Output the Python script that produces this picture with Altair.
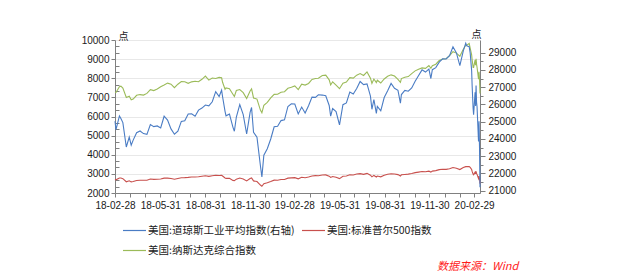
import altair as alt
import pandas as pd

# ---------------- data ----------------
dates = [
    "2018-02-28", "2018-03-02", "2018-03-09", "2018-03-12", "2018-03-16", "2018-03-23", "2018-03-29",
    "2018-04-02", "2018-04-06", "2018-04-13", "2018-04-20", "2018-04-27", "2018-05-04", "2018-05-11",
    "2018-05-18", "2018-05-25", "2018-06-01", "2018-06-08", "2018-06-15", "2018-06-22", "2018-06-29",
    "2018-07-06", "2018-07-13", "2018-07-20", "2018-07-27", "2018-08-03", "2018-08-10", "2018-08-17",
    "2018-08-24", "2018-08-31", "2018-09-07", "2018-09-14", "2018-09-21", "2018-09-28", "2018-10-03",
    "2018-10-05", "2018-10-10", "2018-10-12", "2018-10-19", "2018-10-26", "2018-10-29", "2018-11-02",
    "2018-11-09", "2018-11-16", "2018-11-23", "2018-11-30", "2018-12-03", "2018-12-07", "2018-12-14",
    "2018-12-21", "2018-12-24", "2018-12-28", "2019-01-04", "2019-01-11", "2019-01-18", "2019-01-25",
    "2019-02-01", "2019-02-08", "2019-02-15", "2019-02-22", "2019-03-01", "2019-03-08", "2019-03-15",
    "2019-03-22", "2019-03-29", "2019-04-05", "2019-04-12", "2019-04-18", "2019-04-26", "2019-05-03",
    "2019-05-10", "2019-05-13", "2019-05-17", "2019-05-24", "2019-05-31", "2019-06-07", "2019-06-14",
    "2019-06-21", "2019-06-28", "2019-07-05", "2019-07-12", "2019-07-19", "2019-07-26", "2019-08-02",
    "2019-08-05", "2019-08-09", "2019-08-14", "2019-08-16", "2019-08-23", "2019-08-30", "2019-09-06",
    "2019-09-13", "2019-09-20", "2019-09-27", "2019-10-02", "2019-10-04", "2019-10-11", "2019-10-18",
    "2019-10-25", "2019-11-01", "2019-11-08", "2019-11-15", "2019-11-22", "2019-11-29", "2019-12-03",
    "2019-12-06", "2019-12-13", "2019-12-20", "2019-12-27", "2020-01-03", "2020-01-10", "2020-01-17",
    "2020-01-24", "2020-01-31", "2020-02-07", "2020-02-12", "2020-02-14", "2020-02-19", "2020-02-21",
    "2020-02-24", "2020-02-25", "2020-02-27", "2020-02-28", "2020-03-02", "2020-03-03", "2020-03-04",
    "2020-03-05", "2020-03-06", "2020-03-09", "2020-03-10", "2020-03-11", "2020-03-12",
]

# Dow Jones Industrial Average (right axis)
dow = [
    25029, 24538, 25336, 25179, 24946, 23533, 24103,
    23644, 23933, 24360, 24463, 24311, 24263, 24831,
    24715, 24753, 24635, 25317, 25090, 24581, 24271,
    24456, 25019, 25058, 25451, 25463, 25313, 25669,
    25790, 25965, 25917, 26155, 26744, 26458, 26828,
    26447, 25599, 25340, 25444, 24688, 24443, 25271,
    25989, 25413, 24286, 25538, 25827, 24389, 24100,
    22445, 21792, 23062, 23433, 23996, 24706, 24737,
    25064, 25106, 25883, 26031, 26026, 25450, 25849,
    25502, 25929, 26425, 26412, 26559, 26543, 26505,
    25942, 25325, 25764, 25586, 24815, 25984, 26090,
    26719, 26600, 26922, 27332, 27154, 27192, 26485,
    25718, 26287, 25479, 25886, 25629, 26403, 26797,
    27220, 26935, 26820, 26079, 26573, 26817, 26770,
    26958, 27347, 27681, 28005, 27876, 28051, 27503,
    28015, 28135, 28455, 28645, 28635, 28824, 29348,
    28990, 28256, 29103, 29551, 29398, 29348, 28992,
    27961, 27081, 25766, 25409, 26703, 25917, 27091,
    26121, 25865, 23851, 25018, 23553, 21200,
]

# S&P 500 (left axis)
spx = [
    2714, 2691, 2786, 2783, 2752, 2588, 2641,
    2582, 2604, 2656, 2670, 2670, 2663, 2728,
    2712, 2721, 2735, 2779, 2780, 2755, 2718,
    2760, 2801, 2802, 2819, 2840, 2833, 2850,
    2875, 2902, 2872, 2905, 2930, 2914, 2925,
    2886, 2785, 2767, 2768, 2659, 2641, 2723,
    2781, 2736, 2633, 2760, 2790, 2633, 2600,
    2417, 2351, 2486, 2532, 2596, 2671, 2665,
    2707, 2708, 2776, 2793, 2804, 2743, 2822,
    2800, 2834, 2893, 2907, 2905, 2940, 2946,
    2881, 2812, 2860, 2826, 2752, 2873, 2887,
    2950, 2942, 2990, 3014, 2977, 3026, 2932,
    2845, 2919, 2840, 2889, 2847, 2926, 2979,
    3007, 2992, 2962, 2888, 2952, 2970, 2986,
    3023, 3067, 3093, 3120, 3110, 3141, 3093,
    3146, 3169, 3221, 3240, 3235, 3265, 3330,
    3295, 3226, 3328, 3379, 3380, 3386, 3338,
    3226, 3128, 2979, 2954, 3090, 3003, 3130,
    3024, 2972, 2747, 2882, 2741, 2481,
]

# NASDAQ Composite (left axis)
ixic = [
    7273, 7258, 7560, 7588, 7482, 6993, 7063,
    6870, 6915, 7107, 7146, 7120, 7209, 7403,
    7354, 7434, 7554, 7646, 7746, 7692, 7510,
    7688, 7826, 7820, 7737, 7812, 7839, 7816,
    7946, 8110, 7903, 8010, 7987, 8046, 8025,
    7788, 7422, 7497, 7449, 7167, 7050, 7357,
    7407, 7248, 6939, 7331, 7442, 6969, 6910,
    6333, 6193, 6584, 6739, 6971, 7157, 7165,
    7264, 7298, 7472, 7527, 7596, 7408, 7688,
    7643, 7729, 7939, 7984, 8000, 8146, 8164,
    7917, 7647, 7816, 7637, 7453, 7742, 7797,
    8032, 8006, 8162, 8244, 8146, 8330, 8004,
    7726, 7959, 7774, 7896, 7752, 7963, 8103,
    8177, 8118, 7940, 7786, 7982, 8057, 8089,
    8243, 8386, 8475, 8541, 8520, 8665, 8521,
    8657, 8735, 8925, 9007, 9021, 9179, 9389,
    9315, 9151, 9521, 9726, 9731, 9817, 9577,
    9221, 8966, 8566, 8567, 8952, 8684, 9019,
    8738, 8576, 7950, 8344, 7952, 7201,
]

S_DOW = "美国:道琼斯工业平均指数(右轴)"
S_SPX = "美国:标准普尔500指数"
S_IXIC = "美国:纳斯达克综合指数"
series_names = [S_DOW, S_SPX, S_IXIC]
series_colors = ["#4a7cc4", "#c8504d", "#9bbb59"]

left_major = [2000, 3000, 4000, 5000, 6000, 7000, 8000, 9000, 10000]
right_major = [21000, 22000, 23000, 24000, 25000, 26000, 27000, 28000, 29000]
month_ends = [
    (2018, 2, 28), (2018, 3, 31), (2018, 4, 30), (2018, 5, 31), (2018, 6, 30), (2018, 7, 31),
    (2018, 8, 31), (2018, 9, 30), (2018, 10, 31), (2018, 11, 30), (2018, 12, 31),
    (2019, 1, 31), (2019, 2, 28), (2019, 3, 31), (2019, 4, 30), (2019, 5, 31), (2019, 6, 30),
    (2019, 7, 31), (2019, 8, 31), (2019, 9, 30), (2019, 10, 31), (2019, 11, 30), (2019, 12, 31),
    (2020, 1, 31), (2020, 2, 29),
]
SOURCE = "数据来源：Wind"

# ---------------- tables ----------------
n = len(dates)
df_left = pd.DataFrame({
    "date": pd.to_datetime(dates * 2),
    "value": spx + ixic,
    "series": [S_SPX] * n + [S_IXIC] * n,
})
df_right = pd.DataFrame({
    "date": pd.to_datetime(dates),
    "value": dow,
    "series": [S_DOW] * n,
})

left_minor = [v + k * 1000 / 3 for v in left_major[:-1] for k in (1, 2)]
right_minor = [v + 500 for v in right_major[:-1]]

LATIN = "Liberation Sans"
CJK = "Noto Sans CJK SC"
AXIS_GREY = "#808080"
LABEL_COL = "#1a1a1a"

x_enc = alt.X(
    "date:T",
    scale=alt.Scale(
        domain=[alt.DateTime(year=2018, month=2, date=28), alt.DateTime(year=2020, month=3, date=12)],
        nice=False,
    ),
    axis=alt.Axis(
        title=None,
        values=[alt.DateTime(year=y, month=m, date=d) for (y, m, d) in month_ends],
        labelExpr="month(datum.value) % 3 == 1 ? timeFormat(datum.value, '%y-%m-%d') : ''",
        grid=False,
        tickSize=4,
        tickColor=AXIS_GREY,
        domainColor=AXIS_GREY,
        labelOverlap=False,
        labelBound=False,
        labelFlush=False,
        labelPadding=3,
        labelFont=LATIN,
        labelFontSize=10,
        labelColor=LABEL_COL,
    ),
)

color_enc = alt.Color(
    "series:N",
    scale=alt.Scale(domain=series_names, range=series_colors),
    legend=alt.Legend(
        title=None,
        orient="none",
        legendX=7,
        legendY=178,
        columns=2,
        direction="horizontal",
        symbolType="stroke",
        symbolSize=529,
        symbolStrokeWidth=1.2,
        labelFont=CJK,
        labelFontSize=10.5,
        labelColor=LABEL_COL,
        labelOffset=1,
        labelLimit=400,
        columnPadding=4,
        rowPadding=2,
        padding=0,
    ),
)

left_scale = alt.Scale(domain=[2000, 10000], nice=False, zero=False)
right_scale = alt.Scale(domain=[20866, 29736], nice=False, zero=False)

left_lines = alt.Chart(df_left).mark_line(strokeWidth=1.1).encode(
    x=x_enc,
    y=alt.Y(
        "value:Q",
        scale=left_scale,
        axis=alt.Axis(
            orient="left",
            values=left_major,
            format="d",
            title="点",
            titleAngle=0,
            titleX=8,
            titleY=1,
            titleAlign="center",
            titleBaseline="bottom",
            titleFont=CJK,
            titleFontSize=10,
            titleFontWeight="normal",
            titleColor=LABEL_COL,
            tickSize=4,
            tickColor=AXIS_GREY,
            domainColor=AXIS_GREY,
            grid=True,
            gridColor="#e8e8e8",
            labelFont=LATIN,
            labelFontSize=10,
            labelColor=LABEL_COL,
            labelPadding=2,
        ),
    ),
    color=color_enc,
    detail="series:N",
)
left_ticks = alt.Chart(df_left).mark_line(opacity=0).encode(
    x=x_enc,
    y=alt.Y(
        "value:Q",
        scale=left_scale,
        axis=alt.Axis(
            orient="left",
            values=left_minor,
            offset=-4,
            tickSize=4,
            tickColor=AXIS_GREY,
            domain=False,
            labels=False,
            grid=False,
            title=None,
        ),
    ),
    detail="series:N",
)
left_group = alt.layer(left_lines, left_ticks).resolve_axis(y="independent")

right_lines = alt.Chart(df_right).mark_line(strokeWidth=1.1).encode(
    x=x_enc,
    y=alt.Y(
        "value:Q",
        scale=right_scale,
        axis=alt.Axis(
            orient="right",
            values=right_major,
            format="d",
            title="点",
            titleAngle=0,
            titleX=-4,
            titleY=-1,
            titleAlign="center",
            titleBaseline="bottom",
            titleFont=CJK,
            titleFontSize=10,
            titleFontWeight="normal",
            titleColor=LABEL_COL,
            tickSize=5,
            tickColor=AXIS_GREY,
            domainColor=AXIS_GREY,
            grid=False,
            labelFont=LATIN,
            labelFontSize=10,
            labelColor=LABEL_COL,
            labelPadding=3,
        ),
    ),
    color=color_enc,
)
right_ticks = alt.Chart(df_right).mark_line(opacity=0).encode(
    x=x_enc,
    y=alt.Y(
        "value:Q",
        scale=right_scale,
        axis=alt.Axis(
            orient="right",
            values=right_minor,
            tickSize=3,
            tickColor=AXIS_GREY,
            domain=False,
            labels=False,
            grid=False,
            title=None,
        ),
    ),
)
right_group = alt.layer(right_lines, right_ticks).resolve_axis(y="independent")

source = alt.Chart(pd.DataFrame({"t": [SOURCE]})).mark_text(
    font=CJK, fontSize=11, fontStyle="italic", color="#ff1a1a", align="left", baseline="middle"
).encode(
    x=alt.value(322),
    y=alt.value(227),
    text="t:N",
)

chart = (
    alt.layer(left_group, right_group, source)
    .resolve_scale(y="independent")
    .properties(
        width=365,
        height=153,
        padding={"left": 115, "top": 40, "right": 144, "bottom": 86},
        autosize=alt.AutoSizeParams(type="none"),
        background="white",
    )
    .configure_view(stroke=None)
)

chart.save("out.html", embed_options={"renderer": "svg", "actions": False})
